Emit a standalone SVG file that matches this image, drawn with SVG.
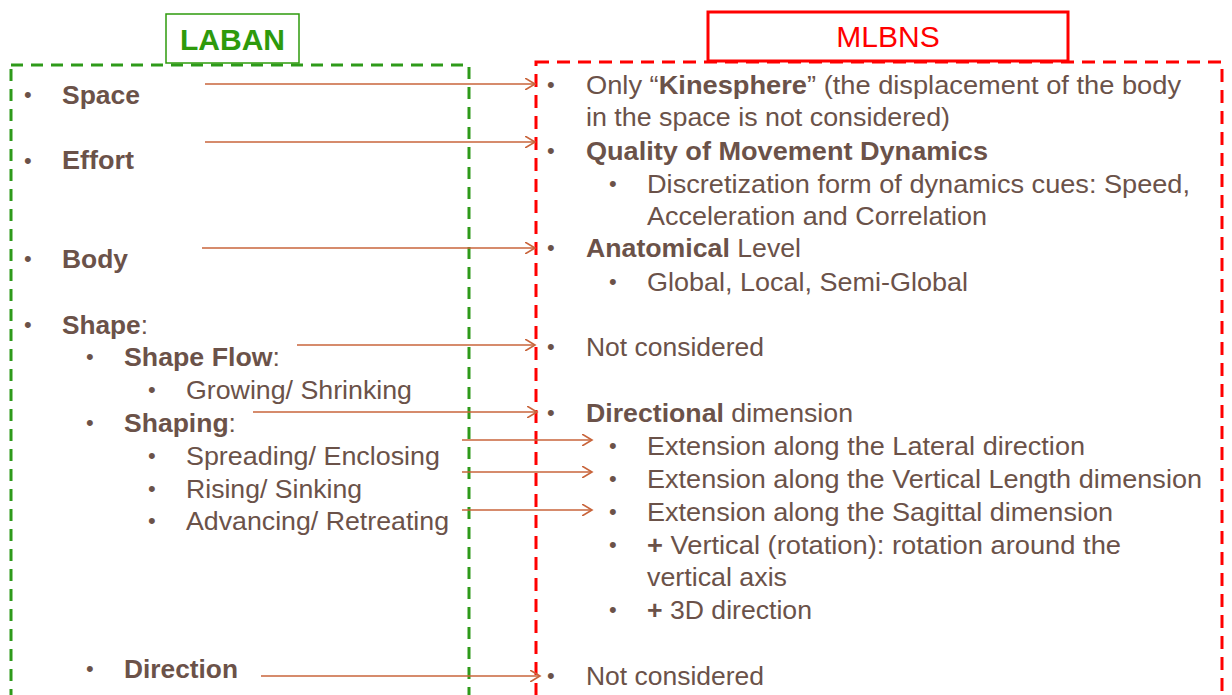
<svg xmlns="http://www.w3.org/2000/svg" width="1232" height="695" viewBox="0 0 1232 695">
<style>
.t{font-family:"Liberation Sans",Arial,sans-serif;font-size:25px;fill:#6b5249}
.b{font-weight:bold}
.bul{font-family:"Liberation Sans",Arial,sans-serif;font-size:22px;fill:#6b5249}
.conn{stroke:#c8643b;stroke-width:1.6;fill:none;marker-end:url(#ah)}
.gdash{fill:none;stroke:#2e9a1a;stroke-width:3;stroke-dasharray:12 8}
.rdash{fill:none;stroke:#ff0000;stroke-width:3;stroke-dasharray:13 8}
</style>
<defs>
<marker id="ah" markerWidth="12" markerHeight="12" refX="10" refY="6" orient="auto" markerUnits="userSpaceOnUse">
<path d="M0,0 L10,6 L0,12" fill="none" stroke="#c8643b" stroke-width="1.6"/>
</marker>
</defs>
<rect width="1232" height="695" fill="#ffffff"/>
<g id="laban-panel"><rect class="gdash" x="11" y="65" width="458" height="660"/></g>
<g id="mlbns-panel"><rect class="rdash" x="536" y="62" width="686" height="660"/></g>
<g id="laban-title">
<rect x="166" y="14" width="133" height="49" fill="#ffffff" stroke="#2e9a0c" stroke-width="1.5"/>
<text x="232.5" y="50" text-anchor="middle" font-family="Liberation Sans,Arial,sans-serif" font-size="30" font-weight="bold" fill="#2e9a0c">LABAN</text>
</g>
<g id="mlbns-title">
<rect x="708" y="12" width="360" height="49" fill="#ffffff" stroke="#ff0000" stroke-width="3"/>
<text x="888" y="47" text-anchor="middle" font-family="Liberation Sans,Arial,sans-serif" font-size="30" fill="#ff0000">MLBNS</text>
</g>
<g id="left-items">
<g id="l-space"><text class="bul" x="24" y="102">•</text><text class="t b" x="62" y="104" textLength="78" lengthAdjust="spacingAndGlyphs">Space</text></g>
<g id="l-effort"><text class="bul" x="24" y="168">•</text><text class="t b" x="62" y="169" textLength="72" lengthAdjust="spacingAndGlyphs">Effort</text></g>
<g id="l-body"><text class="bul" x="24" y="266">•</text><text class="t b" x="62" y="268" textLength="66" lengthAdjust="spacingAndGlyphs">Body</text></g>
<g id="l-shape"><text class="bul" x="24" y="332">•</text><text class="t" x="62" y="334" textLength="86" lengthAdjust="spacingAndGlyphs"><tspan class="b">Shape</tspan>:</text></g>
<g id="l-shapeflow"><text class="bul" x="86" y="364">•</text><text class="t" x="124" y="366" textLength="156" lengthAdjust="spacingAndGlyphs"><tspan class="b">Shape Flow</tspan>:</text></g>
<g id="l-growing"><text class="bul" x="148" y="397">•</text><text class="t" x="186" y="399" textLength="226" lengthAdjust="spacingAndGlyphs">Growing/ Shrinking</text></g>
<g id="l-shaping"><text class="bul" x="86" y="430">•</text><text class="t" x="124" y="432" textLength="112" lengthAdjust="spacingAndGlyphs"><tspan class="b">Shaping</tspan>:</text></g>
<g id="l-spreading"><text class="bul" x="148" y="463">•</text><text class="t" x="186" y="465" textLength="254" lengthAdjust="spacingAndGlyphs">Spreading/ Enclosing</text></g>
<g id="l-rising"><text class="bul" x="148" y="496">•</text><text class="t" x="186" y="498" textLength="176" lengthAdjust="spacingAndGlyphs">Rising/ Sinking</text></g>
<g id="l-advancing"><text class="bul" x="148" y="528">•</text><text class="t" x="186" y="530" textLength="263" lengthAdjust="spacingAndGlyphs">Advancing/ Retreating</text></g>
<g id="l-direction"><text class="bul" x="86" y="676">•</text><text class="t b" x="124" y="678" textLength="114" lengthAdjust="spacingAndGlyphs">Direction</text></g>
</g>
<g id="right-items">
<g id="r-kinesphere"><text class="bul" x="547" y="92">•</text>
<text class="t" x="586" y="94" textLength="595" lengthAdjust="spacingAndGlyphs">Only “<tspan class="b">Kinesphere</tspan>” (the displacement of the body</text>
<text class="t" x="586" y="126" textLength="364" lengthAdjust="spacingAndGlyphs">in the space is not considered)</text></g>
<g id="r-quality"><text class="bul" x="547" y="158">•</text><text class="t b" x="586" y="160" textLength="402" lengthAdjust="spacingAndGlyphs">Quality of Movement Dynamics</text></g>
<g id="r-discretization"><text class="bul" x="609" y="191">•</text>
<text class="t" x="647" y="193" textLength="543" lengthAdjust="spacingAndGlyphs">Discretization form of dynamics cues: Speed,</text>
<text class="t" x="647" y="225" textLength="340" lengthAdjust="spacingAndGlyphs">Acceleration and Correlation</text></g>
<g id="r-anatomical"><text class="bul" x="547" y="255">•</text><text class="t" x="586" y="257" textLength="215" lengthAdjust="spacingAndGlyphs"><tspan class="b">Anatomical</tspan> Level</text></g>
<g id="r-global"><text class="bul" x="609" y="289">•</text><text class="t" x="647" y="291" textLength="321" lengthAdjust="spacingAndGlyphs">Global, Local, Semi-Global</text></g>
<g id="r-notconsidered1"><text class="bul" x="547" y="354">•</text><text class="t" x="586" y="356" textLength="178" lengthAdjust="spacingAndGlyphs">Not considered</text></g>
<g id="r-directional"><text class="bul" x="547" y="420">•</text><text class="t" x="586" y="422" textLength="267" lengthAdjust="spacingAndGlyphs"><tspan class="b">Directional</tspan> dimension</text></g>
<g id="r-lateral"><text class="bul" x="609" y="453">•</text><text class="t" x="647" y="455" textLength="438" lengthAdjust="spacingAndGlyphs">Extension along the Lateral direction</text></g>
<g id="r-vertical"><text class="bul" x="609" y="486">•</text><text class="t" x="647" y="488" textLength="555" lengthAdjust="spacingAndGlyphs">Extension along the Vertical Length dimension</text></g>
<g id="r-sagittal"><text class="bul" x="609" y="519">•</text><text class="t" x="647" y="521" textLength="466" lengthAdjust="spacingAndGlyphs">Extension along the Sagittal dimension</text></g>
<g id="r-rotation"><text class="bul" x="609" y="552">•</text>
<text class="t" x="647" y="554" textLength="474" lengthAdjust="spacingAndGlyphs"><tspan class="b">+</tspan> Vertical (rotation): rotation around the</text>
<text class="t" x="647" y="586" textLength="140" lengthAdjust="spacingAndGlyphs">vertical axis</text></g>
<g id="r-3d"><text class="bul" x="609" y="617">•</text><text class="t" x="647" y="619" textLength="165" lengthAdjust="spacingAndGlyphs"><tspan class="b">+</tspan> 3D direction</text></g>
<g id="r-notconsidered2"><text class="bul" x="547" y="683">•</text><text class="t" x="586" y="685" textLength="178" lengthAdjust="spacingAndGlyphs">Not considered</text></g>
</g>
<g id="connectors">
<line class="conn" x1="205" y1="84" x2="535" y2="84"/>
<line class="conn" x1="205" y1="142" x2="535" y2="142"/>
<line class="conn" x1="202" y1="248" x2="535" y2="248"/>
<line class="conn" x1="297" y1="345" x2="535" y2="345"/>
<line class="conn" x1="253" y1="412" x2="537" y2="412"/>
<line class="conn" x1="462" y1="440" x2="592" y2="440"/>
<line class="conn" x1="462" y1="472" x2="592" y2="472"/>
<line class="conn" x1="462" y1="510" x2="592" y2="510"/>
<line class="conn" x1="261" y1="676" x2="540" y2="676"/>
</g>
</svg>
